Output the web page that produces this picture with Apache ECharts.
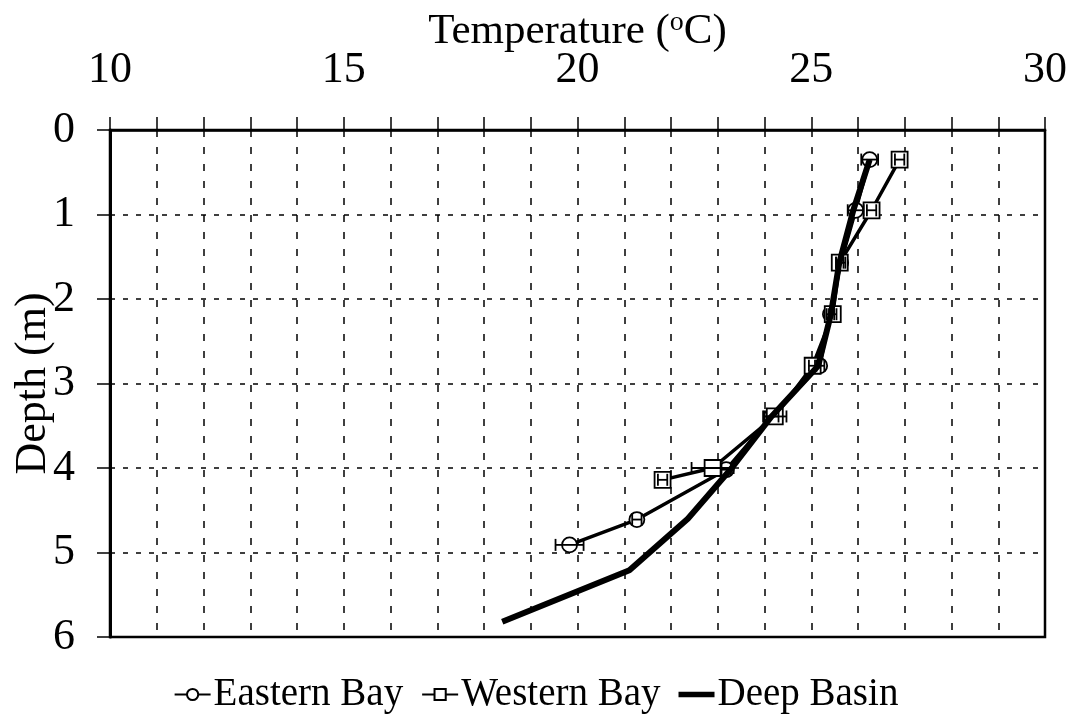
<!DOCTYPE html>
<html>
<head>
<meta charset="utf-8">
<script src="https://cdn.jsdelivr.net/npm/echarts@6/dist/echarts.min.js"></script>
<style>
  html, body { margin: 0; padding: 0; background: #fff; }
  #chart { width: 1072px; height: 725px; }
</style>
</head>
<body>
<div id="chart"></div>
<script>
// Temperature profiles (°C) against depth (m)
const easternDepth = [0.35, 0.95, 1.57, 2.18, 2.79, 3.39, 4.02, 4.61, 4.91];
const easternTemp  = [26.25, 25.95, 25.63, 25.41, 25.18, 24.15, 23.18, 21.27, 19.83];
const easternErr   = [0.18, 0.17, 0.10, 0.08, 0.10, 0.15, 0.10, 0.10, 0.30];

const westernDepth = [0.35, 0.95, 1.57, 2.18, 2.79, 3.39, 4.00, 4.14];
const westernTemp  = [26.89, 26.29, 25.61, 25.46, 25.03, 24.22, 22.89, 21.82];
const westernErr   = [0.10, 0.10, 0.08, 0.08, 0.08, 0.25, 0.45, 0.10];

const deepDepth = [0.35, 0.95, 1.57, 2.18, 2.79, 3.39, 4.00, 4.60, 5.21, 5.82];
const deepTemp  = [26.25, 25.90, 25.60, 25.42, 25.15, 24.15, 23.30, 22.36, 21.11, 18.39];

const seriesNames = ['Eastern Bay', 'Western Bay', 'Deep Basin'];

const FONT = '"Liberation Serif", "Times New Roman", serif';

function pairs(temps, depths) {
  return temps.map((t, i) => [t, depths[i]]);
}
function errData(temps, depths, errs) {
  return temps.map((t, i) => [t - errs[i], t + errs[i], depths[i]]);
}

// horizontal error bars with end caps
function errorBarRender(params, api) {
  const lo = api.coord([api.value(0), api.value(2)]);
  const hi = api.coord([api.value(1), api.value(2)]);
  const cap = 6;
  const style = { stroke: '#000', lineWidth: 1.8, fill: null };
  return {
    type: 'group',
    children: [
      { type: 'line', shape: { x1: lo[0], y1: lo[1], x2: hi[0], y2: hi[1] }, style },
      { type: 'line', shape: { x1: lo[0], y1: lo[1] - cap, x2: lo[0], y2: lo[1] + cap }, style },
      { type: 'line', shape: { x1: hi[0], y1: hi[1] - cap, x2: hi[0], y2: hi[1] + cap }, style }
    ]
  };
}

const chart = echarts.init(document.getElementById('chart'), null, { renderer: 'canvas' });

chart.setOption({
  backgroundColor: '#fff',
  animation: false,
  textStyle: { fontFamily: FONT, color: '#000' },
  grid: {
    left: 110, right: 27, top: 130, bottom: 88,
    outerBoundsMode: 'none',
    containLabel: false,
    show: true, borderColor: '#000', borderWidth: 2.5, backgroundColor: 'transparent'
  },
  legend: {
    data: [
      { name: 'Eastern Bay' },
      { name: 'Western Bay' },
      { name: 'Deep Basin', icon: 'path://M0,0 L40,0 L40,6 L0,6 Z', itemStyle: { color: '#000' } }
    ],
    bottom: 6,
    left: 'center',
    itemWidth: 36,
    itemHeight: 14,
    itemGap: 18,
    textStyle: { fontFamily: FONT, fontSize: 39, color: '#000', padding: [0, 0, 0, -2] }
  },
  xAxis: {
    type: 'value',
    position: 'top',
    min: 10, max: 30, interval: 1,
    name: 'Temperature ({sup|o}C)',
    nameLocation: 'middle',
    nameGap: 75,
    nameMoveOverlap: false,
    nameTextStyle: {
      fontFamily: FONT, fontSize: 43, color: '#000',
      rich: { sup: { fontFamily: FONT, fontSize: 28, color: '#000', verticalAlign: 'top', padding: [0, 0, 18, 0] } }
    },
    axisLine: { show: true, lineStyle: { color: '#000', width: 2.5 } },
    axisTick: { show: true, inside: false, length: 13, lineStyle: { color: '#000', width: 1.5 } },
    axisLabel: {
      margin: 38, fontFamily: FONT, fontSize: 44, color: '#000',
      formatter: v => (v % 5 === 0 ? String(v) : '')
    },
    splitLine: { show: true, lineStyle: { color: '#000', width: 1.5, type: [7, 10] } }
  },
  yAxis: {
    type: 'value',
    inverse: true,
    min: 0, max: 6, interval: 1,
    name: 'Depth (m)',
    nameLocation: 'middle',
    nameRotate: 90,
    nameGap: 55,
    nameMoveOverlap: false,
    nameTextStyle: { fontFamily: FONT, fontSize: 44, color: '#000' },
    axisLine: { show: true, lineStyle: { color: '#000', width: 3 } },
    axisTick: { show: true, inside: false, length: 13, lineStyle: { color: '#000', width: 1.5 } },
    axisLabel: { margin: 35, fontFamily: FONT, fontSize: 44, color: '#000' },
    splitLine: { show: true, lineStyle: { color: '#000', width: 1.5, type: [5, 8] } }
  },
  series: [
    {
      name: 'Eastern Bay',
      type: 'line',
      data: pairs(easternTemp, easternDepth),
      symbol: 'circle', symbolSize: 15,
      lineStyle: { color: '#000', width: 3.5 },
      itemStyle: { color: '#fff', borderColor: '#000', borderWidth: 1.8 },
      z: 3
    },
    {
      name: 'Western Bay',
      type: 'line',
      data: pairs(westernTemp, westernDepth),
      symbol: 'rect', symbolSize: 16,
      lineStyle: { color: '#000', width: 3.5 },
      itemStyle: { color: '#fff', borderColor: '#000', borderWidth: 1.8 },
      z: 3
    },
    {
      name: 'Deep Basin',
      type: 'line',
      data: pairs(deepTemp, deepDepth),
      symbol: 'none',
      lineStyle: { color: '#000', width: 6 },
      itemStyle: { color: '#000' },
      z: 4
    },
    {
      type: 'custom',
      renderItem: errorBarRender,
      encode: { x: [0, 1], y: 2 },
      data: errData(easternTemp, easternDepth, easternErr),
      z: 5
    },
    {
      type: 'custom',
      renderItem: errorBarRender,
      encode: { x: [0, 1], y: 2 },
      data: errData(westernTemp, westernDepth, westernErr),
      z: 5
    }
  ]
});
</script>
</body>
</html>
